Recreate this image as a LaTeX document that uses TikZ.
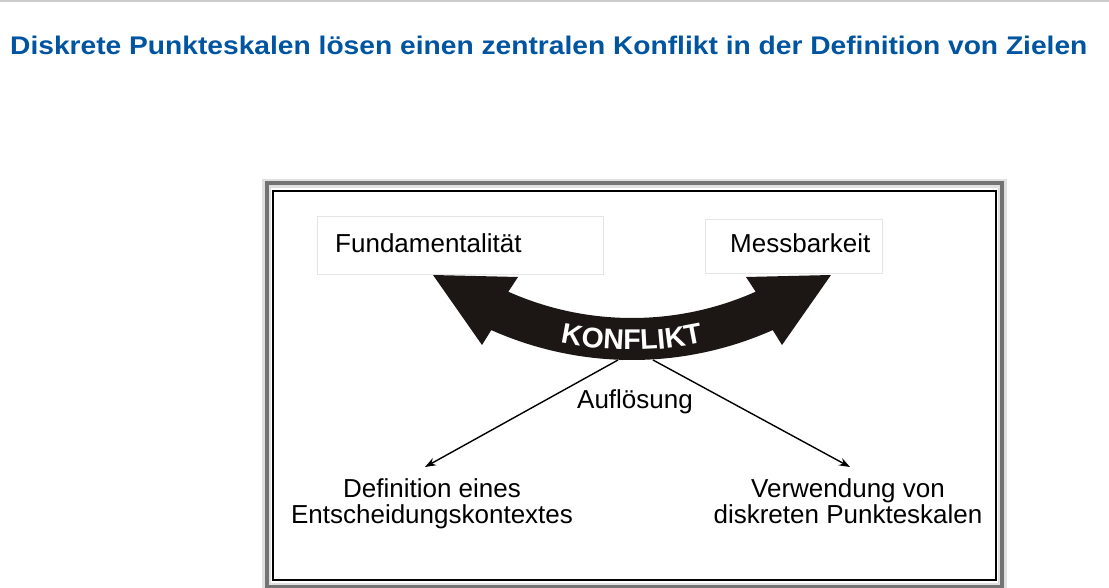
\documentclass[tikz,border=0pt]{standalone}
\usepackage{fontspec}
\usepackage{graphicx}
\setmainfont{Liberation Sans}
\usetikzlibrary{calc,arrows.meta,decorations.text}
\definecolor{titleblue}{RGB}{0,84,160}
\definecolor{konflikt}{RGB}{28,23,20}
\tikzset{conn/.style = {-{Stealth[length=11pt,width=8pt]}, line width=1.4pt}}
\tikzset{wbox/.style = {draw=black!10, line width=1pt, inner sep=0}}
\tikzset{lbl/.style = {font=\fontsize{26}{26}\selectfont, inner sep=0, align=center}}

\begin{document}
\begin{tikzpicture}[x=1pt,y=-1pt]
    \useasboundingbox (0,0) rectangle (1109,588);
    \draw [black!20, line width=2pt] (0,1.5) -- (1109,1.5);
    \node [anchor=base west, inner sep=0, text=titleblue,
           font=\bfseries\fontsize{25.5}{25.5}\selectfont] (title) at (10,55)
          {\scalebox{1.105}[1]{Diskrete Punkteskalen lösen einen zentralen Konflikt in der Definition von Zielen}};
    % frame
    \begin{scope}
      \clip (0,0) rectangle (1109,588);
      \draw [black!12, line width=9pt] (266.5,183.5) rectangle (1002,587);
      \draw [black!55, line width=4pt] (266.5,183.5) rectangle (1002,587);
      \draw [line width=1.5pt] (273,191) rectangle (996,580);
    \end{scope}
	\node [wbox, minimum width=286pt, minimum height=58pt] (fundbox) at (460,246) {};
	\node [wbox, minimum width=177pt, minimum height=54pt] (messbox) at (793.5,247) {};
    \node [lbl, anchor=base west] (fund) at (335,253) {Fundamentalität};
    \node [lbl, anchor=base west] (mess) at (730,253) {Messbarkeit};
    % double arrow
    \fill [konflikt] (433,275) -- (518,277) -- ($(632,14)+(114:304)$)
        arc [start angle=114, end angle=66, radius=304] -- (746,277) -- (831,275) -- (782,345)
        -- ($(632,14)+(66:346)$) arc [start angle=66, end angle=114, radius=346] -- (482,345) -- cycle;
    \path [decorate, decoration={text along path, text align=center,
           text={|\color{white}\bfseries\fontsize{28.5}{28.5}\selectfont|KONFLIKT}}]
        ($(632,14)+(113:336)$) arc [start angle=113, end angle=67, radius=336];
    \coordinate (lsplit) at (618,360);
    \coordinate (rsplit) at (653,360);
    \node [lbl, anchor=base] (aufl) at (635,408) {Auflösung};
    \node [lbl, anchor=north] (def) at (432,478) {Definition eines\\Entscheidungskontextes};
    \node [lbl, anchor=north] (verw) at (848,478) {Verwendung von\\diskreten Punkteskalen};
	\draw [conn] (lsplit) -- ([xshift=-7pt,yshift=11pt]def.north);
	\draw [conn] (rsplit) -- ([xshift=2pt,yshift=11pt]verw.north);
\end{tikzpicture}
\end{document}
